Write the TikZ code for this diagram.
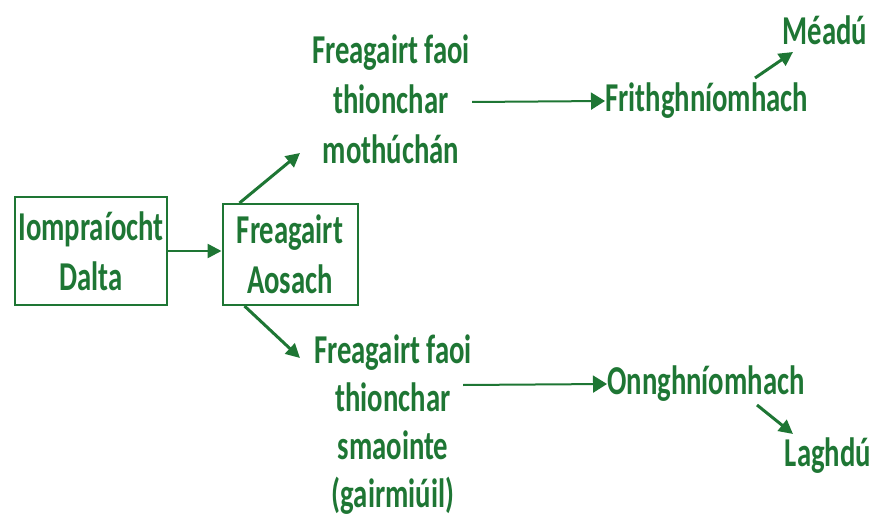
\documentclass[tikz,border=0pt]{standalone}
\usepackage{fontspec}
\setmainfont[FakeStretch=0.70]{Carlito}
\usepackage{tikz}
\usetikzlibrary{arrows.meta}
\definecolor{leaf}{RGB}{30,118,52}
\begin{document}
\begin{tikzpicture}[x=1pt,y=-1pt]
\tikzstyle{every node}+=[inner sep=0pt,text=leaf,align=center,font=\fontsize{41}{50}\selectfont\bfseries]
\tikzstyle{box}=[draw=leaf,line width=2pt]
\tikzstyle{arr}=[draw=leaf,line width=3pt,-{Triangle[length=14pt,width=14pt]}]
\tikzstyle{longarr}=[draw=leaf,line width=2pt,-{Triangle[length=14pt,width=17pt]}]
\useasboundingbox (0,0) rectangle (874,518);
\node [box,minimum width=152pt,minimum height=108pt] (dalta) at (91,251) {Iompraíocht\\Dalta};
\node [box,minimum width=135pt,minimum height=101pt] (aosach) at (290,254.5) {Freagairt\\Aosach};
\node (mothu) at (391,99) {Freagairt faoi\\thionchar\\mothúchán};
\node [font=\fontsize{41}{48}\selectfont\bfseries] (smaoin) at (393,425) {Freagairt faoi\\thionchar\\smaointe\\(gairmiúil)};
\node [anchor=west] (frith) at (605,101) {Frithghníomhach};
\node [anchor=west] (onn) at (607,384) {Onnghníomhach};
\node (meadu) at (825,30) {Méadú};
\node (laghdu) at (828,456) {Laghdú};
\coordinate (upTip) at (300,153);
\coordinate (lowTip) at (300,358);
\coordinate (frithTail) at (755,78);
\coordinate (meaduTip) at (793,52);
\coordinate (onnTail) at (757,405);
\coordinate (laghduTip) at (793,434);
\draw [arr,line width=2.5pt] (dalta.east) -- (dalta.east -| aosach.west);
\draw [arr] ([xshift=18pt]aosach.north west) -- (upTip);
\draw [arr] ([xshift=23pt]aosach.south west) -- (lowTip);
\draw [longarr] (472,102) -- (frith.west);
\draw [longarr] (463,385) -- (onn.west);
\draw [arr] (frithTail) -- (meaduTip);
\draw [arr] (onnTail) -- (laghduTip);
\end{tikzpicture}
\end{document}
